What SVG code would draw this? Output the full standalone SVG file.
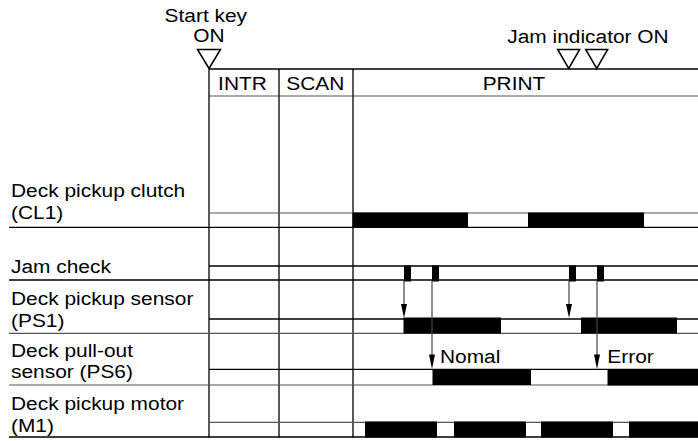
<svg xmlns="http://www.w3.org/2000/svg" width="698" height="441" viewBox="0 0 698 441">
<style>
.t{font-family:"Liberation Sans",Arial,sans-serif;font-size:19px;fill:#000}
.m{text-anchor:middle}
.g{stroke:#000;stroke-width:1.3;fill:none}
.lv{stroke:#555;stroke-width:1.2;fill:none}
.p{fill:#000}
.tri{fill:#fff;stroke:#000;stroke-width:1.5}
.ar{stroke:#444;stroke-width:1.2;fill:none}
.ah{fill:#000}
</style>
<rect width="698" height="441" fill="#fff"/>

<g id="start-key">
<text class="t m" transform="translate(205.8,21.5) scale(1.1,1)">Start key</text>
<text class="t m" transform="translate(209,41.5) scale(1.1,1)">ON</text>
<polygon class="tri" points="197.5,49.5 220.5,49.5 209,68.5"/>
</g>

<g id="jam-indicator">
<text class="t m" transform="translate(588,43.3) scale(1.1,1)">Jam indicator ON</text>
<polygon class="tri" points="557.7,49.5 579.7,49.5 568.7,68.5"/>
<polygon class="tri" points="585.7,49.5 607.7,49.5 596.7,68.5"/>
</g>

<g id="header">
<line class="g" x1="209" y1="69" x2="698" y2="69"/>
<line class="lv" x1="209" y1="96" x2="698" y2="96"/>
<line class="g" x1="209" y1="69" x2="209" y2="437.5"/>
<line class="g" x1="279" y1="69" x2="279" y2="437.5"/>
<line class="g" x1="353" y1="69" x2="353" y2="437.5"/>
<text class="t m" transform="translate(242.5,89.5) scale(1.1,1)">INTR</text>
<text class="t m" transform="translate(315.3,89.5) scale(1.1,1)">SCAN</text>
<text class="t m" transform="translate(514,89.5) scale(1.1,1)">PRINT</text>
</g>

<g id="row-cl1">
<text class="t" transform="translate(11,197) scale(1.1,1)">Deck pickup clutch</text>
<text class="t" transform="translate(11,218.5) scale(1.1,1)">(CL1)</text>
<line class="lv" x1="209" y1="213" x2="698" y2="213"/>
<line class="g" x1="9" y1="227.3" x2="698" y2="227.3"/>
<rect class="p" x="352.5" y="212.5" width="115.5" height="15"/>
<rect class="p" x="528" y="212.5" width="116" height="15"/>
</g>

<g id="row-jam-check">
<text class="t" transform="translate(11,273) scale(1.1,1)">Jam check</text>
<line class="g" x1="209" y1="266" x2="698" y2="266"/>
<line class="g" x1="9" y1="280" x2="698" y2="280"/>
<rect class="p" x="404" y="265.5" width="7" height="16"/>
<rect class="p" x="432" y="265.5" width="7" height="16"/>
<rect class="p" x="569" y="265.5" width="7" height="16"/>
<rect class="p" x="597" y="265.5" width="7" height="16"/>
</g>

<g id="row-ps1">
<text class="t" transform="translate(11,305) scale(1.1,1)">Deck pickup sensor</text>
<text class="t" transform="translate(11,326.7) scale(1.1,1)">(PS1)</text>
<line class="g" x1="209" y1="319" x2="698" y2="319"/>
<line class="lv" x1="9" y1="333.3" x2="698" y2="333.3"/>
<rect class="p" x="403.5" y="317.5" width="97.5" height="16"/>
<rect class="p" x="581" y="317.5" width="96" height="16"/>
</g>

<g id="row-ps6">
<text class="t" transform="translate(11,356.7) scale(1.1,1)">Deck pull-out</text>
<text class="t" transform="translate(11,378) scale(1.1,1)">sensor (PS6)</text>
<line class="g" x1="209" y1="369.3" x2="698" y2="369.3"/>
<line class="lv" x1="9" y1="385" x2="698" y2="385"/>
<rect class="p" x="432.5" y="369" width="98.5" height="16"/>
<rect class="p" x="607.5" y="369" width="90.5" height="16.5"/>
<text class="t" transform="translate(440,363.3) scale(1.1,1)">Nomal</text>
<text class="t" transform="translate(607.3,363.3) scale(1.1,1)">Error</text>
</g>

<g id="row-m1">
<text class="t" transform="translate(11,410) scale(1.1,1)">Deck pickup motor</text>
<text class="t" transform="translate(11,431.7) scale(1.1,1)">(M1)</text>
<line class="lv" x1="209" y1="422.3" x2="698" y2="422.3"/>
<line class="g" x1="9" y1="437" x2="698" y2="437"/>
<rect class="p" x="365" y="421.5" width="72" height="16"/>
<rect class="p" x="454" y="421.5" width="72" height="16"/>
<rect class="p" x="541" y="421.5" width="72" height="16"/>
<rect class="p" x="629" y="421.5" width="69" height="16"/>
</g>

<g id="connectors">
<line class="ar" x1="404" y1="281" x2="404" y2="306"/>
<polygon class="ah" points="401,304 407,304 404,318"/>
<line class="ar" x1="432" y1="281" x2="432" y2="356"/>
<polygon class="ah" points="429,354.5 435,354.5 432,369"/>
<line class="ar" x1="569" y1="281" x2="569" y2="306"/>
<polygon class="ah" points="566,304 572,304 569,318"/>
<line class="ar" x1="597" y1="281" x2="597" y2="356"/>
<polygon class="ah" points="594,354.5 600,354.5 597,369"/>
</g>
</svg>
